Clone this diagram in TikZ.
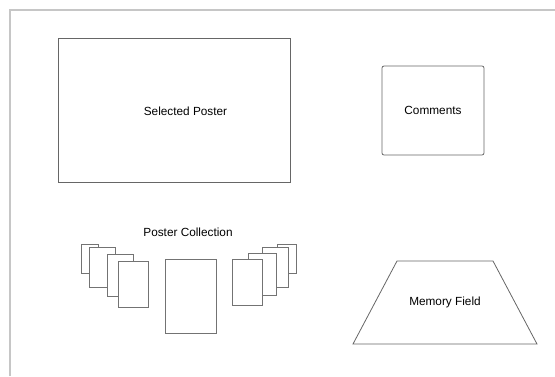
\documentclass[tikz,border=0pt]{standalone}
\usepackage{fontspec}
\setmainfont{Liberation Sans}
\usetikzlibrary{shapes.geometric,positioning}

\begin{document}
\begin{tikzpicture}[
    x=1pt, y=-1pt,
    every node/.style={font=\fontsize{11.8}{13}\selectfont},
    panel/.style={draw=black!60, line width=0.8pt, inner sep=0pt},
    card/.style={draw=black!55, fill=white, line width=0.8pt, inner sep=0pt},
    outline/.style={draw=black!60, line width=0.8pt}
]
\useasboundingbox (0,0) rectangle (555,376);

% Page frame
\draw[gray!45, line width=1.2pt] (10,376) -- (10,10) -- (555,10);

% Main panels
\node[panel, minimum width=232pt, minimum height=144pt] (poster) at (174,110) {};
\node (poster label) at (185.5,111) {Selected Poster};
\node[panel, rounded corners=2pt, minimum width=102pt, minimum height=89pt] (comments) at (433,110.5) {Comments};

% Memory field (trapezoid round its label)
\coordinate (mem topleft) at (397,261);
\coordinate (mem topright) at (493,261);
\coordinate (mem botright) at (537,344);
\coordinate (mem botleft) at (353,344);
\draw[outline] (mem topleft) -- (mem topright) -- (mem botright) -- (mem botleft) -- cycle;
\node (memory) at (445,302.5) {Memory Field};

% Poster collection
\node (collection) at (188,232) {Poster Collection};

\node[card, minimum width=17pt, minimum height=29pt] (left1) at (89.5,258.5) {};
\node[card, minimum width=26pt, minimum height=40pt] (left2) at (102,267) {};
\node[card, minimum width=26pt, minimum height=42pt] (left3) at (120,275) {};
\node[card, minimum width=30pt, minimum height=46pt] (left4) at (133,284) {};

\node[card, minimum width=51pt, minimum height=74pt] (current) at (190.5,296) {};

\node[card, minimum width=19pt, minimum height=29pt] (right4) at (286.5,258.5) {};
\node[card, minimum width=26pt, minimum height=40pt] (right3) at (275,267) {};
\node[card, minimum width=28pt, minimum height=42pt] (right2) at (262,274) {};
\node[card, minimum width=30pt, minimum height=46pt] (right1) at (247,282) {};

\end{tikzpicture}
\end{document}
